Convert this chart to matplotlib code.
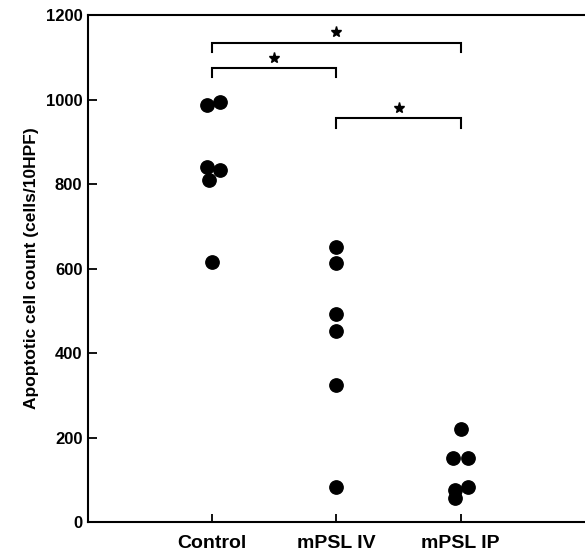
import numpy as np
import matplotlib
matplotlib.use("Agg")
import matplotlib.pyplot as plt

plt.rcParams['font.family'] = ['Liberation Sans', 'DejaVu Sans']
plt.rcParams['font.weight'] = 'bold'

groups = ["Control", "mPSL IV", "mPSL IP"]
control = [987, 995, 841, 833, 809, 616]
mpsl_iv = [650, 612, 492, 452, 324, 84]
mpsl_ip = [220, 151, 151, 84, 76, 56]

# horizontal offsets of the dots (dots touch each other in the original)
control_dx = [-0.04, 0.06, -0.04, 0.06, -0.03, 0.0]
iv_dx = [0, 0, 0, 0, 0, 0]
ip_dx = [0.0, -0.06, 0.06, 0.06, -0.05, -0.05]

# significance brackets: (group a, group b, bracket height, leg length)
brackets = [(0, 2, 1134, 22), (0, 1, 1074, 20), (1, 2, 956, 24)]

fig = plt.figure(figsize=(5.85, 5.58), dpi=100)
ax = fig.add_axes([0.1504, 0.0645, 0.8496, 0.9085])

series = [control, mpsl_iv, mpsl_ip]
offsets = [control_dx, iv_dx, ip_dx]
for i, (vals, dx) in enumerate(zip(series, offsets)):
    xs = np.full(len(vals), i + 1.0) + np.array(dx)
    ax.plot(xs, vals, 'o', color='black', markersize=9.6, linestyle='none')

for a, b, h, leg in brackets:
    xa, xb = a + 1, b + 1
    ax.plot([xa, xa, xb, xb], [h - leg, h, h, h - leg], color='black', lw=1.5,
            solid_joinstyle='miter')
    ax.plot([(xa + xb) / 2], [h + 25], marker='*', color='black',
            markersize=8, linestyle='none')

ax.set_xlim(0, 4)
ax.set_ylim(0, 1200)
ax.set_xticks([1, 2, 3])
ax.set_xticklabels(groups, fontsize=14, fontweight='bold')
ax.set_yticks(np.arange(0, 1201, 200))
ax.tick_params(axis='y', direction='in', length=6.5, width=1.3, pad=4,
               labelsize=12)
ax.tick_params(axis='x', direction='in', length=5.5, width=1.3, pad=9)
for lab in ax.get_yticklabels():
    lab.set_fontweight('bold')

ax.spines['right'].set_visible(False)
for s in ['left', 'bottom', 'top']:
    ax.spines[s].set_linewidth(1.5)

ax.set_ylabel("Apoptotic cell count (cells/10HPF)", fontsize=12.5,
              fontweight='bold', labelpad=5)

fig.savefig("out.png", dpi=100)
